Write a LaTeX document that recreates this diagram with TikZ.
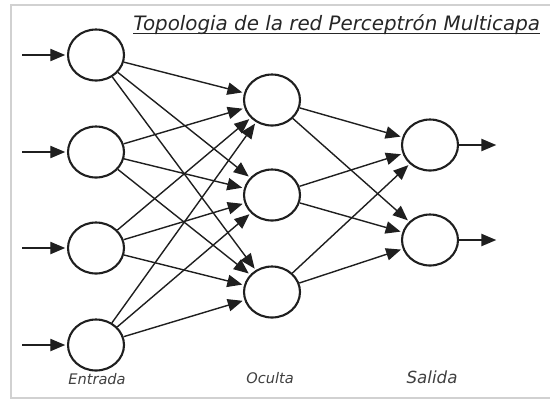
\documentclass[tikz,border=0pt]{standalone}
\usepackage{fontspec}
\setmainfont{DejaVu Sans}
\usetikzlibrary{arrows.meta,shapes.geometric}
\begin{document}
\begin{tikzpicture}[x=0.02cm,y=-0.02cm,
  neuron/.style={ellipse,draw=black!88,line width=1.2pt,minimum width=1.12cm,minimum height=1.02cm,inner sep=0pt},
  conn/.style={draw=black!88,line width=0.8pt,shorten >=1pt,-{Triangle[length=8.5pt,width=7pt]}},
  layerlabel/.style={anchor=base,inner sep=0pt,text=black!75,font=\itshape\fontsize{8.3}{9}\selectfont}]
\useasboundingbox (0,0) rectangle (550,400);
% light frame
\draw[black!18,line width=1.3pt] (550,5) -- (11,5) -- (11,398) -- (550,398);

% title
\node[anchor=base west,inner sep=0pt,text=black!85] (title) at (133,30)
  {\fontsize{11.3}{13}\selectfont\itshape Topologia de la red Perceptrón Multicapa};
\draw[black!85,line width=0.75pt] ([yshift=-1.8pt]title.base west) -- ([yshift=-1.8pt]title.base east);

% input layer
\node[neuron] (i1) at (96,55) {};
\node[neuron] (i2) at (96,152) {};
\node[neuron] (i3) at (96,248) {};
\node[neuron] (i4) at (96,345) {};
% hidden layer
\node[neuron] (h1) at (272,100) {};
\node[neuron] (h2) at (272,195) {};
\node[neuron] (h3) at (272,292) {};
% output layer
\node[neuron] (o1) at (430,145) {};
\node[neuron] (o2) at (430,240) {};

% inputs
\foreach \k/\y in {1/55,2/152,3/248,4/345}{
  \coordinate (s\k) at (22,\y);
  \draw[conn] (s\k) -- (i\k);
}
% outputs
\foreach \k/\y in {1/145,2/240}{
  \coordinate (t\k) at (498,\y);
  \draw[conn] (o\k) -- (t\k);
}
% full connections
\foreach \a in {1,2,3,4}
  \foreach \b in {1,2,3}
    \draw[conn] (i\a) -- (h\b);
\foreach \a in {1,2,3}
  \foreach \b in {1,2}
    \draw[conn] (h\a) -- (o\b);

% layer names
\node[layerlabel] (lin) at (97,384) {Entrada};
\node[layerlabel] (lhid) at (270,383) {Oculta};
\node[layerlabel,font=\itshape\fontsize{9.5}{11}\selectfont] (lout) at (432,383) {Salida};
\end{tikzpicture}
\end{document}
